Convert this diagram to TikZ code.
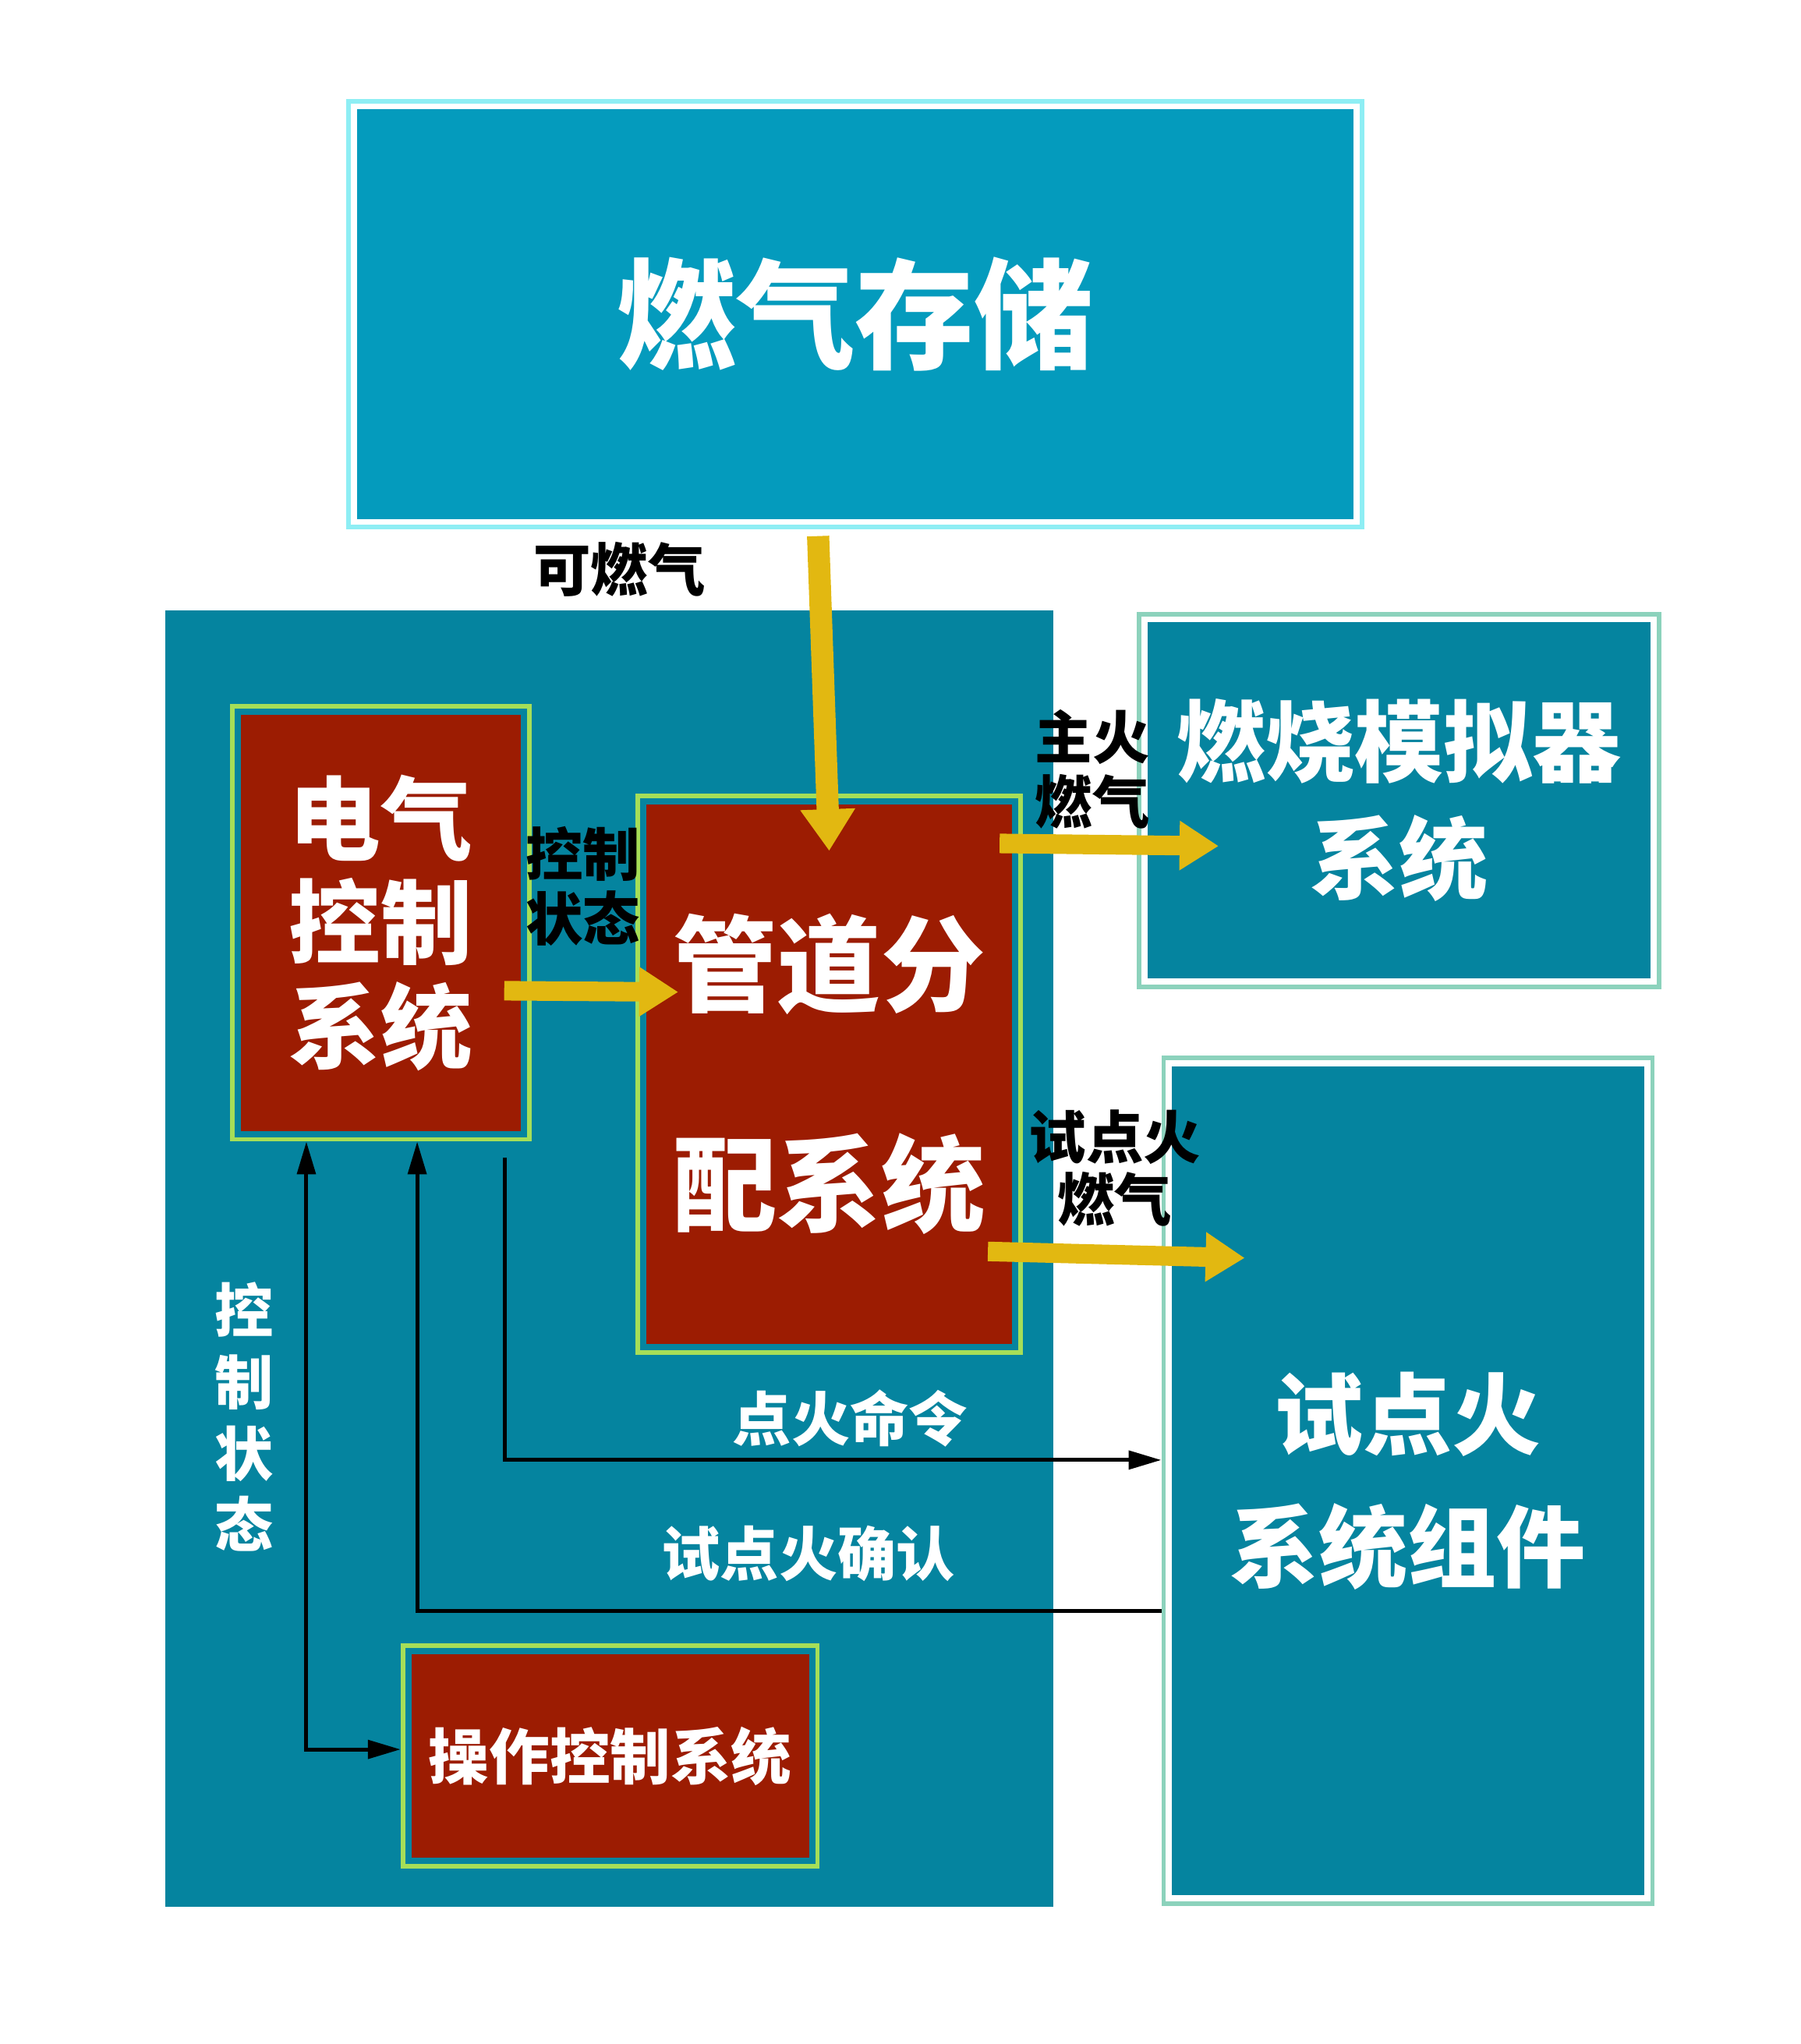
\documentclass[tikz,border=0pt]{standalone}
\usepackage{fontspec}
\newfontfamily\cjk{Noto Sans CJK SC Black}
\usetikzlibrary{positioning, arrows.meta, calc}
\definecolor{gasblue}{HTML}{049BBD}
\definecolor{systeal}{HTML}{05849F}
\definecolor{sysred}{HTML}{9C1C02}
\definecolor{flowgold}{HTML}{E2B811}
\definecolor{glowcyan}{HTML}{8EEEF4}
\definecolor{glowmint}{HTML}{8CD2BC}
\definecolor{glowlime}{HTML}{A6DE58}

\tikzset{
  panel/.style n args={3}{draw=#1, line width=0.35mm, fill=#2, inner sep=0pt,
    text=white, align=center,
    path picture={\fill[#3] ([shift={(0.65mm,-0.65mm)}]path picture bounding box.north west)
      rectangle ([shift={(-0.65mm,0.65mm)}]path picture bounding box.south east);}},
  tag/.style={text=black, align=center, inner sep=0pt, font=\cjk\fontsize{12.5}{14.2}\selectfont},
  wtag/.style={tag, text=white},
  flow/.style={draw=flowgold, line width=1.5mm, -{Triangle[length=3mm, width=3.6mm]}},
  sig/.style={draw=black, line width=0.3mm},
  tip/.style={-{Triangle[length=2.5mm, width=1.4mm]}}
}

\begin{document}
\begin{tikzpicture}[x=0.1mm, y=-0.1mm]
  \useasboundingbox (0,0) rectangle (1381,1568);
  % Anlage
  \fill[systeal] (127,468) rectangle (808,1463);

  \node[panel={glowcyan}{white}{gasblue}, minimum width=77.7mm, minimum height=32.7mm,
    font=\cjk\fontsize{26}{30}\selectfont] (store) at (656,241) {燃气存储};
  \node[panel={glowlime}{systeal}{sysred}, minimum width=22.8mm, minimum height=33.2mm,
    font=\cjk\fontsize{20}{22.7}\selectfont] (elec) at (292,708) {电气\\控制\\系统};
  \node[panel={glowlime}{systeal}{sysred}, minimum width=29.4mm, minimum height=42.7mm,
    font=\cjk\fontsize{22.7}{48}\selectfont] (pipe) at (636,824) {管道分\\配系统};
  \node[panel={glowmint}{white}{systeal}, minimum width=39.9mm, minimum height=28.6mm,
    font=\cjk\fontsize{19.4}{25.5}\selectfont] (burner) at (1073,614) {燃烧模拟器\\系统};
  \node[panel={glowmint}{white}{systeal}, minimum width=37.5mm, minimum height=64.9mm,
    font=\cjk\fontsize{19.4}{29}\selectfont] (pilot) at (1080,1136) {试点火\\系统组件};
  \node[panel={glowlime}{systeal}{sysred}, minimum width=31.8mm, minimum height=16.9mm,
    font=\cjk\fontsize{13.2}{15}\selectfont] (op) at (468,1347) {操作控制系统};

  % Gasleitungen
  \draw[flow, line width=1.7mm, -{Triangle[length=3.2mm, width=4mm]}]
    ([xshift=-2.85mm, yshift=-0.5mm]store.south) -- ([yshift=-4.4mm]pipe.north);
  \draw[flow] ([xshift=-2.1mm, yshift=-5.2mm]elec.east) -- ([xshift=3.3mm, yshift=6.3mm]pipe.west);
  \draw[flow] ([xshift=-1.8mm, yshift=17.7mm]pipe.east) -- ([xshift=6.3mm, yshift=-3.5mm]burner.west);
  \draw[flow] ([xshift=-2.7mm, yshift=-13.6mm]pipe.east) -- ([xshift=6.4mm, yshift=17.1mm]pilot.west);

  \node[tag] (gaslbl) at (475,437) {可燃气};
  \node[tag] (statelbl) at (447,680) {控制\\状态};
  \node[tag] (mainlbl) at (838,590) {主火\\燃气};
  \node[tag, font=\cjk\fontsize{12.5}{13.6}\selectfont] (pilotlbl) at (855,896) {试点火\\燃气};

  % Signale
  \draw[sig, {Triangle[length=2.5mm, width=1.4mm]}-{Triangle[length=2.5mm, width=1.4mm]}]
    ([xshift=-5.7mm]elec.south) |- ([yshift=0.5mm]op.west);
  \draw[sig, tip] ([yshift=-10mm]pilot.west) -| ([xshift=2.8mm]elec.south);
  \draw[sig, tip] ([xshift=9.5mm, yshift=-1.2mm]elec.south) |- ([yshift=1.6mm]pilot.west);

  \node[wtag, font=\cjk\fontsize{12.8}{15.6}\selectfont] (oplbl) at (187,1087) {控\\制\\状\\态};
  \node[wtag, font=\cjk\fontsize{12.8}{15}\selectfont] (firelbl) at (652,1088) {点火命令};
  \node[wtag, font=\cjk\fontsize{12.8}{15}\selectfont] (acklbl) at (620,1192) {试点火确认};
\end{tikzpicture}
\end{document}
